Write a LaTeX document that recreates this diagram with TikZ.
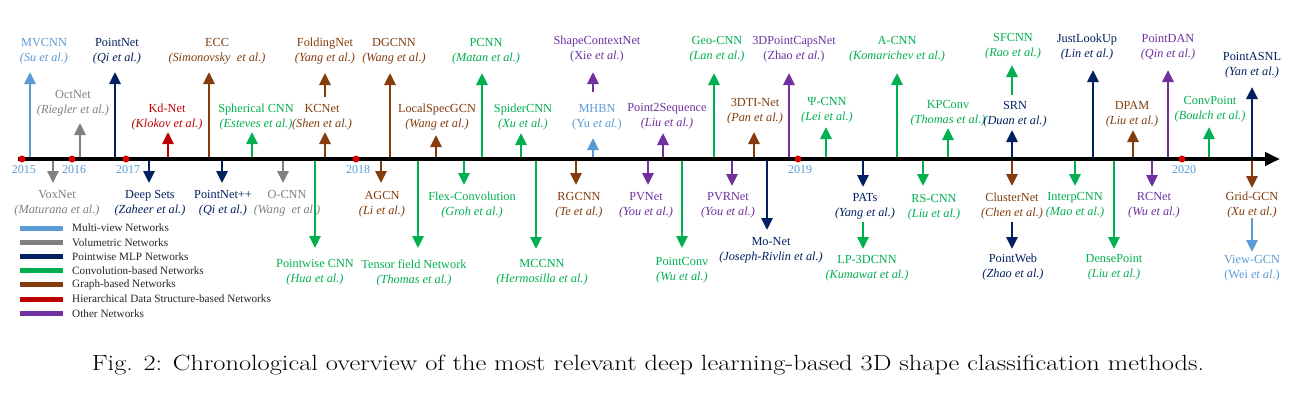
\documentclass[tikz,border=0pt]{standalone}
\usepackage{fontspec}
\newfontfamily\tfont{Liberation Serif}
\usetikzlibrary{arrows.meta}
\definecolor{mv}{HTML}{5B9BD5}
\definecolor{vol}{HTML}{808080}
\definecolor{pw}{HTML}{002060}
\definecolor{conv}{HTML}{00B050}
\definecolor{graph}{HTML}{843C0C}
\definecolor{hier}{HTML}{C00000}
\definecolor{oth}{HTML}{7030A0}
\definecolor{dotred}{HTML}{E00000}
\newcommand{\au}[1]{\textit{(#1 et al.)}}
\newcommand{\aur}[1]{(#1 \textit{et al.})}
\newcommand{\mkitem}[8]{%
  \coordinate (s-#1) at (#3,#4);
  \coordinate (t-#1) at (#3,#5);
  \node[lbl,text=#2] (n-#1) at (#6,#7) {#8};
  \draw[arr,#2] (s-#1) -- (t-#1);
}
\begin{document}
\begin{tikzpicture}[x=1pt,y=-1pt,
  lbl/.style={align=center,inner sep=0pt,font=\tfont\fontsize{12.3}{15}\selectfont},
  arr/.style={line width=2.8pt,-{Triangle[length=12pt,width=11pt]}},
  yr/.style={text=mv,inner sep=0pt,font=\tfont\fontsize{12}{14}\selectfont},
  leg/.style={anchor=west,inner sep=0pt,text=black!85,font=\tfont\fontsize{11.2}{13}\selectfont},
  legline/.style={line width=5pt}]
\useasboundingbox[fill=white] (0,0) rectangle (1306,397);
% ---- upward items
\mkitem{mvcnn}{mv}{30}{159}{72}{44}{51.5}{MVCNN\\\au{Su}}
\mkitem{octnet}{vol}{80}{159}{123}{73}{103}{OctNet\\\au{Riegler}}
\mkitem{pointnet}{pw}{115}{159}{72}{117}{51.5}{PointNet\\\au{Qi}}
\mkitem{kdnet}{hier}{168}{159}{132}{167}{117}{Kd-Net\\\au{Klokov}}
\mkitem{ecc}{graph}{209}{159}{72}{217}{51.5}{ECC\\\textit{(Simonovsky~ et al.)}}
\mkitem{spherical}{conv}{252}{159}{132}{256}{117}{Spherical CNN\\\au{Esteves}}
\mkitem{kcnet}{graph}{325}{159}{132}{322}{117}{KCNet\\\au{Shen}}
\mkitem{folding}{graph}{325}{97}{73}{325}{51.5}{FoldingNet\\\au{Yang}}
\mkitem{dgcnn}{graph}{390}{159}{73}{394}{51.5}{DGCNN\\\au{Wang}}
\mkitem{localspec}{graph}{436}{159}{135}{437}{117.5}{LocalSpecGCN\\\au{Wang}}
\mkitem{pcnn}{conv}{482}{159}{73}{486}{51.5}{PCNN\\\au{Matan}}
\mkitem{spider}{conv}{521}{159}{133}{523}{117.5}{SpiderCNN\\\au{Xu}}
\mkitem{shapectx}{oth}{593}{92}{72}{597}{49.5}{ShapeContextNet\\\aur{Xie}}
\mkitem{mhbn}{mv}{593}{159}{138}{597}{117.5}{MHBN\\\aur{Yu}}
\mkitem{p2seq}{oth}{663}{159}{133}{667}{116}{Point2Sequence\\\au{Liu}}
\mkitem{geocnn}{conv}{714}{159}{73}{717}{49.5}{Geo-CNN\\\au{Lan}}
\mkitem{dti}{graph}{754}{159}{132}{755}{111.5}{3DTI-Net\\\au{Pan}}
\mkitem{caps}{oth}{789}{159}{73}{794}{49.5}{3DPointCapsNet\\\aur{Zhao}}
\mkitem{psicnn}{conv}{826}{159}{127}{827}{110.5}{Ψ-CNN\\\au{Lei}}
\mkitem{acnn}{conv}{897}{159}{73}{897}{49.5}{A-CNN\\\au{Komarichev}}
\mkitem{kpconv}{conv}{948}{159}{128}{948}{113.5}{KPConv\\\au{Thomas}}
\mkitem{sfcnn}{conv}{1012}{95}{65}{1013}{46}{SFCNN\\\au{Rao}}
\mkitem{srn}{pw}{1012}{159}{130}{1015}{114}{SRN\\\au{Duan}}
\mkitem{jlu}{pw}{1093}{159}{70}{1087}{47.5}{JustLookUp\\\au{Lin}}
\mkitem{dpam}{graph}{1133}{159}{130}{1132}{114}{DPAM\\\au{Liu}}
\mkitem{pointdan}{oth}{1168}{159}{70}{1168}{47.5}{PointDAN\\\au{Qin}}
\mkitem{convpoint}{conv}{1209}{159}{127}{1210}{109.5}{ConvPoint\\\au{Boulch}}
\mkitem{asnl}{pw}{1252}{159}{87}{1252}{65.5}{PointASNL\\\au{Yan}}
% ---- downward items
\mkitem{voxnet}{vol}{53}{159}{183}{57}{203.5}{VoxNet\\\au{Maturana}}
\mkitem{deepsets}{pw}{149}{159}{183}{150}{203.5}{Deep Sets\\\au{Zaheer}}
\mkitem{pnpp}{pw}{222}{159}{183}{223}{203.5}{PointNet++\\\au{Qi}}
\mkitem{ocnn}{vol}{283}{159}{183}{287}{203}{O-CNN\\\textit{(Wang~ et al.)}}
\mkitem{pointwise}{conv}{315}{159}{248}{315}{272.5}{Pointwise CNN\\\au{Hua}}
\mkitem{agcn}{graph}{381}{159}{183}{382}{204.5}{AGCN\\\au{Li}}
\mkitem{tensor}{conv}{418}{159}{248}{414}{272.5}{Tensor field Network\\\au{Thomas}}
\mkitem{flex}{conv}{464}{159}{185}{472}{205}{Flex-Convolution\\\au{Groh}}
\mkitem{mccnn}{conv}{536}{159}{249}{542}{272.5}{MCCNN\\\au{Hermosilla}}
\mkitem{rgcnn}{graph}{576}{159}{185}{579}{205}{RGCNN\\\au{Te}}
\mkitem{pvnet}{oth}{648}{159}{185}{646}{205}{PVNet\\\au{You}}
\mkitem{pointconv}{conv}{682}{159}{248}{682}{270.5}{PointConv\\\au{Wu}}
\mkitem{pvrnet}{oth}{732}{159}{186}{728}{205.5}{PVRNet\\\au{You}}
\mkitem{monet}{pw}{767}{159}{230}{771}{250.5}{Mo-Net\\\au{Joseph-Rivlin}}
\mkitem{pats}{pw}{863}{159}{187}{865}{206.5}{PATs\\\au{Yang}}
\mkitem{lp3d}{conv}{863}{222}{249}{867}{268.5}{LP-3DCNN\\\au{Kumawat}}
\mkitem{rscnn}{conv}{923}{159}{186}{934}{207.5}{RS-CNN\\\au{Liu}}
\mkitem{cluster}{graph}{1012}{159}{186}{1012}{206}{ClusterNet\\\au{Chen}}
\mkitem{pointweb}{pw}{1012}{222}{249}{1013}{267.5}{PointWeb\\\au{Zhao}}
\mkitem{interp}{conv}{1075}{159}{186}{1075}{205.5}{InterpCNN\\\au{Mao}}
\mkitem{dense}{conv}{1114}{159}{249}{1114}{267.5}{DensePoint\\\au{Liu}}
\mkitem{rcnet}{oth}{1152}{159}{187}{1154}{205.5}{RCNet\\\au{Wu}}
\mkitem{gridgcn}{graph}{1252}{159}{188}{1252}{205.5}{Grid-GCN\\\au{Xu}}
\mkitem{viewgcn}{mv}{1252}{218}{252}{1252}{268.5}{View-GCN\\\aur{Wei}}
% ---- axis
\coordinate (ax0) at (18,159);
\coordinate (ax1) at (1280,159);
\draw[line width=4pt,-{Triangle[length=15pt,width=13pt]}] (ax0) -- (ax1);
\foreach \x/\y in {22/2015,72/2016,126/2017,356/2018,798/2019,1182/2020}{
  \fill[dotred] (\x,159) circle (3.5);
  \node[yr] (y\y) at (\x+2,170) {\y};
}
% ---- legend
\foreach \c/\t [count=\i from 0] in {mv/Multi-view Networks,vol/Volumetric Networks,pw/Pointwise MLP Networks,conv/Convolution-based Networks,graph/Graph-based Networks,hier/Hierarchical Data Structure-based Networks,oth/Other Networks}{
  \draw[legline,\c] (20,228+14.2*\i) -- (63,228+14.2*\i);
  \node[leg] (lg\i) at (72,228+14.2*\i) {\t};
}
% ---- caption
\node[inner sep=0pt,font=\fontsize{22}{26}\selectfont] (cap) at (648,365) {\scalebox{1.2}[1]{Fig. 2: Chronological overview of the most relevant deep learning-based 3D shape classification methods.}};
\end{tikzpicture}
\end{document}
